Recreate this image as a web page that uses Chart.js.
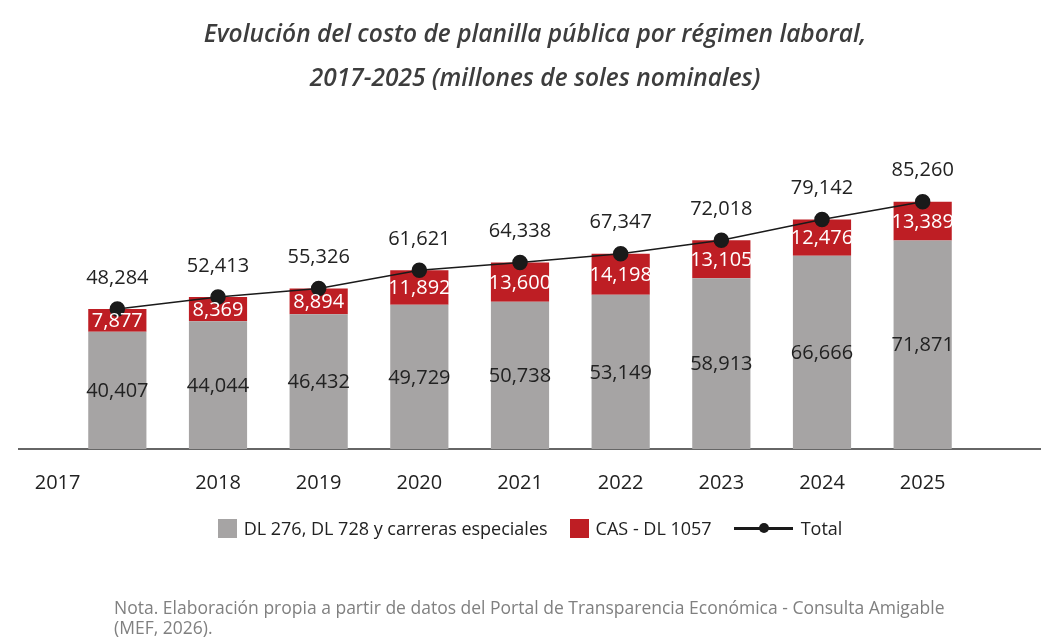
<!DOCTYPE html>
<html>
<head>
<meta charset="utf-8">
<script src="https://cdn.jsdelivr.net/npm/chart.js@4.4.1/dist/chart.umd.min.js"></script>
<style>
  html, body { margin: 0; padding: 0; background: #fff; }
  body { width: 1056px; height: 644px; position: relative; overflow: hidden; font-family: "Open Sans", sans-serif; }
  #wrap { position: absolute; left: 0; top: 0; width: 1056px; height: 644px; }
  #title { position: absolute; left: 35px; top: 11px; width: 1000px; text-align: center; font-size: 24.5px; line-height: 44px; font-style: italic; font-weight: 600; color: #3d3d3d; }
  #legend { position: absolute; left: 0; top: 516px; width: 1056px; display: flex; justify-content: center; font-size: 18px; line-height: 24px; color: #222; padding-left: 2px; }
  #legend .item { display: flex; align-items: center; margin: 0 11px; }
  #legend .box { width: 19px; height: 19px; margin-right: 7px; }
  #legend .line { width: 59px; height: 3px; background: #1a1a1a; position: relative; margin-right: 8px; }
  #legend .line::after { content: ""; position: absolute; left: 25px; top: -3.5px; width: 10px; height: 10px; border-radius: 50%; background: #1a1a1a; }
  #note { position: absolute; left: 114px; top: 597px; font-size: 17.5px; line-height: 20px; color: #808080; }
</style>
</head>
<body>
<div id="wrap"><canvas id="chart" width="1056" height="644"></canvas></div>
<div id="title">Evolución del costo de planilla pública por régimen laboral,<br>2017-2025 (millones de soles nominales)</div>
<div id="legend"></div>
<div id="note">Nota. Elaboración propia a partir de datos del Portal de Transparencia Económica - Consulta Amigable<br>(MEF, 2026).</div>
<script>
// data
const years = ["2017", "2018", "2019", "2020", "2021", "2022", "2023", "2024", "2025"];
const dlValues = [40407, 44044, 46432, 49729, 50738, 53149, 58913, 66666, 71871];
const casValues = [7877, 8369, 8894, 11892, 13600, 14198, 13105, 12476, 13389];
const totalValues = [48284, 52413, 55326, 61621, 64338, 67347, 72018, 79142, 85260];

const fmt = v => v.toLocaleString("en-US");

// value labels inside bars and above the total line
const valueLabels = {
    id: "valueLabels",
    afterDatasetsDraw(chart) {
        const ctx = chart.ctx;
        ctx.save();
        ctx.font = "20px 'Open Sans'";
        ctx.textAlign = "center";
        ctx.textBaseline = "middle";
        chart.data.datasets.forEach((ds, i) => {
            const meta = chart.getDatasetMeta(i);
            meta.data.forEach((el, j) => {
                const v = ds.data[j];
                if (ds.type === "line") {
                    ctx.fillStyle = "#222";
                    ctx.fillText(fmt(v), el.x, el.y - 31);
                } else {
                    ctx.fillStyle = ds.labelColor;
                    ctx.fillText(fmt(v), el.x, (el.y + el.base) / 2 + 1);
                }
            });
        });
        ctx.restore();
    }
};

// long baseline under the bars
const baseLine = {
    id: "baseLine",
    beforeDatasetsDraw(chart) {
        const ctx = chart.ctx;
        const y = chart.scales.y.getPixelForValue(0);
        ctx.save();
        ctx.strokeStyle = "#333";
        ctx.lineWidth = 1.5;
        ctx.beginPath();
        ctx.moveTo(18, y);
        ctx.lineTo(1041, y);
        ctx.stroke();
        ctx.restore();
    }
};

// legend as html, built from the datasets
const htmlLegend = {
    id: "htmlLegend",
    afterUpdate(chart) {
        const box = document.getElementById("legend");
        box.innerHTML = "";
        chart.data.datasets.forEach(ds => {
            const item = document.createElement("div");
            item.className = "item";
            const mark = document.createElement("span");
            if (ds.type === "line") {
                mark.className = "line";
            } else {
                mark.className = "box";
                mark.style.background = ds.backgroundColor;
            }
            const txt = document.createElement("span");
            txt.textContent = ds.label;
            item.appendChild(mark);
            item.appendChild(txt);
            box.appendChild(item);
        });
    }
};

new Chart(document.getElementById("chart"), {
    data: {
        labels: years,
        datasets: [
            {
                type: "bar",
                label: "DL 276, DL 728 y carreras especiales",
                data: dlValues,
                backgroundColor: "#a6a4a4",
                labelColor: "#222",
                stack: "bars",
                order: 1,
                barPercentage: 0.578,
                categoryPercentage: 1,
            },
            {
                type: "bar",
                label: "CAS - DL 1057",
                data: casValues,
                backgroundColor: "#be1e24",
                labelColor: "#fff",
                stack: "bars",
                order: 1,
                barPercentage: 0.578,
                categoryPercentage: 1,
            },
            {
                type: "line",
                label: "Total",
                data: totalValues,
                borderColor: "#1a1a1a",
                backgroundColor: "#1a1a1a",
                borderWidth: 1.5,
                pointRadius: 7,
                pointHoverRadius: 7,
                stack: "total",
                order: 0,
            },
        ],
    },
    options: {
        responsive: false,
        animation: false,
        events: [],
        layout: {
            padding: { left: 67, right: 83, top: 159, bottom: 127 },
        },
        scales: {
            x: {
                stacked: true,
                offset: true,
                grid: { display: false, drawTicks: false },
                border: { display: false },
                ticks: {
                    padding: 22,
                    maxRotation: 0,
                    autoSkip: false,
                    color: "#222",
                    font: { family: "'Open Sans'", size: 20 },
                    // the first year label sits left of its bar
                    callback: function (value, index) {
                        const lab = this.getLabelForValue(value);
                        return index === 0 ? lab + " ".repeat(23) : lab;
                    },
                },
            },
            y: {
                display: false,
                stacked: true,
                min: 0,
                max: 100000,
            },
        },
        plugins: {
            legend: { display: false },
            tooltip: { enabled: false },
            title: { display: false },
        },
    },
    plugins: [valueLabels, baseLine, htmlLegend],
});
</script>
</body>
</html>
